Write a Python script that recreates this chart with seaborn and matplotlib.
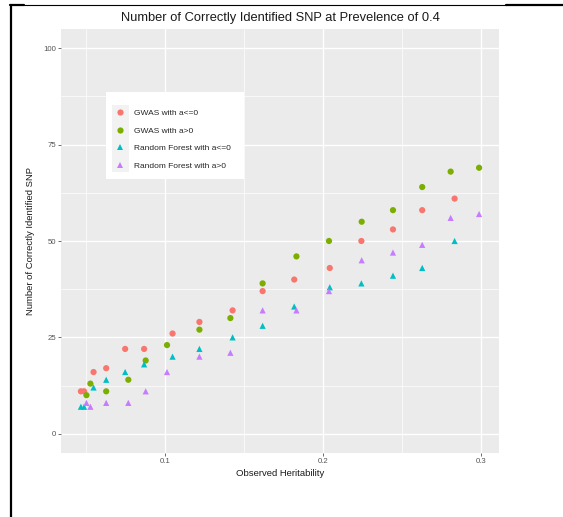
import pandas as pd
import matplotlib.pyplot as plt
import seaborn as sns
from matplotlib.lines import Line2D
from matplotlib.patches import Rectangle
from matplotlib.ticker import MultipleLocator

# observed heritability for the two effect settings
h_neg = [0.047, 0.049, 0.055, 0.063, 0.075, 0.087, 0.105, 0.122,
         0.143, 0.162, 0.182, 0.2045, 0.2245, 0.2445, 0.263, 0.2835]
h_pos = [0.0505, 0.053, 0.063, 0.077, 0.088, 0.1015, 0.122, 0.1416,
         0.162, 0.1834, 0.204, 0.2247, 0.2445, 0.263, 0.281, 0.299]

gwas_neg = [11, 11, 16, 17, 22, 22, 26, 29, 32, 37, 40, 43, 50, 53, 58, 61]
gwas_pos = [10, 13, 11, 14, 19, 23, 27, 30, 39, 46, 50, 55, 58, 64, 68, 69]
rf_neg = [7, 7, 12, 14, 16, 18, 20, 22, 25, 28, 33, 38, 39, 41, 43, 50]
rf_pos = [8, 7, 8, 8, 11, 16, 20, 21, 32, 32, 37, 45, 47, 49, 56, 57]

labels = ['GWAS with a<=0', 'GWAS with a>0',
          'Random Forest with a<=0', 'Random Forest with a>0']
colors = ['#F8766D', '#7CAE00', '#00BFC4', '#C77CFF']

df = pd.concat([
    pd.DataFrame({'h': h_neg, 'n': gwas_neg, 'method': labels[0]}),
    pd.DataFrame({'h': h_pos, 'n': gwas_pos, 'method': labels[1]}),
    pd.DataFrame({'h': h_neg, 'n': rf_neg, 'method': labels[2]}),
    pd.DataFrame({'h': h_pos, 'n': rf_pos, 'method': labels[3]}),
])

sns.set_style('darkgrid', {'axes.facecolor': '#EBEBEB', 'grid.color': 'white'})
plt.rcParams['font.family'] = ['Liberation Sans', 'DejaVu Sans']

W, H = 563, 517
fig = plt.figure(figsize=(W / 100, H / 100), dpi=100)
ax = fig.add_axes([61 / W, 1 - 453 / H, (499 - 61) / W, (453 - 29) / H])

sns.scatterplot(data=df, x='h', y='n', hue='method', style='method',
                hue_order=labels, style_order=labels,
                palette=dict(zip(labels, colors)),
                markers=dict(zip(labels, ['o', 'o', '^', '^'])),
                s=20, linewidth=0, ax=ax)

ax.set_xlim(0.0344, 0.3116)
ax.set_ylim(-5, 105)
ax.xaxis.set_minor_locator(MultipleLocator(0.05))
ax.yaxis.set_minor_locator(MultipleLocator(12.5))
ax.set_xticks([0.1, 0.2, 0.3])
ax.set_xticklabels(['0.1', '0.2', '0.3'])
ax.set_yticks([0, 25, 50, 75, 100])
ax.set_yticklabels(['0', '25', '50', '75', '100'])
ax.grid(which='major', color='white', linewidth=1.0)
ax.grid(which='minor', color='white', linewidth=0.5)
for s in ax.spines.values():
    s.set_visible(False)
ax.tick_params(which='major', bottom=True, left=True, length=2.2, width=0.6,
               color='#555555', labelsize=5.6, labelcolor='#555555', pad=1.5)
ax.tick_params(which='minor', length=0)

ax.set_xlabel('Observed Heritability', fontsize=6.8, color='#1A1A1A', labelpad=3)
ax.set_ylabel('Number of Correctly Identified SNP', fontsize=6.8, color='#1A1A1A', labelpad=6)
ax.set_title('Number of Correctly Identified SNP at Prevelence of 0.4',
             fontsize=9.3, color='#1A1A1A', pad=6)

# legend box drawn by hand: white panel with a light grey key column
ax.add_patch(Rectangle((106 / W, 1 - 179 / H), 138 / W, 87 / H, transform=fig.transFigure,
                       facecolor='white', edgecolor='none', zorder=4, clip_on=False))
ax.add_patch(Rectangle((112 / W, 1 - 172 / H), 17 / W, 67 / H, transform=fig.transFigure,
                       facecolor='#F2F2F2', edgecolor='none', zorder=4.5, clip_on=False))
leg = ax.legend(loc='upper left', bbox_to_anchor=(116 / W, 1 - 109.5 / H),
                bbox_transform=fig.transFigure, fontsize=6, frameon=False,
                handlelength=1.0, handletextpad=1.16, labelspacing=1.15,
                borderpad=0, borderaxespad=0)
leg.set_zorder(5)

# black page frame lines visible in the screenshot
fig.add_artist(Line2D([11 / W, 11 / W], [0, 1 - 5 / H], color='black', lw=1.6))
fig.add_artist(Line2D([10 / W, 24 / W], [1 - 5 / H, 1 - 5 / H], color='black', lw=1.6))
fig.add_artist(Line2D([24 / W, 506 / W], [1 - 5 / H, 1 - 5 / H], color='black', lw=0.8))
fig.add_artist(Line2D([506 / W, 1], [1 - 5 / H, 1 - 5 / H], color='black', lw=1.6))

fig.savefig('out.png', dpi=100)
